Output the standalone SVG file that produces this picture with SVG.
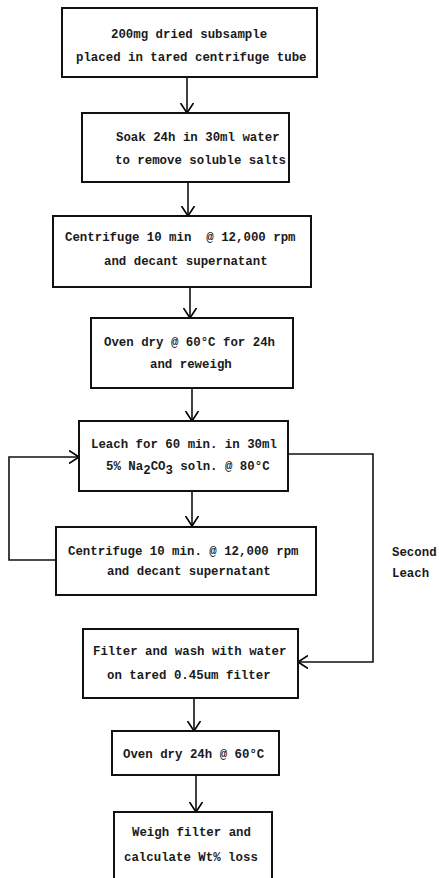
<svg xmlns="http://www.w3.org/2000/svg" width="439" height="878" viewBox="0 0 439 878">
<defs>
<marker id="arr" viewBox="0 0 10 14" refX="10" refY="7" markerWidth="10" markerHeight="14" markerUnits="userSpaceOnUse" orient="auto">
<path d="M0,0.5 L10,7 L0,13.5" fill="none" stroke="#000" stroke-width="1.6"/>
</marker>
</defs>
<style>
.box { fill: #fff; stroke: #111; stroke-width: 2; }
.open { fill: none; stroke: #111; stroke-width: 2; }
text { font-family: "Liberation Mono", "Courier New", monospace; font-size: 12.4px; font-weight: bold; fill: #1a1a1a; white-space: pre; }
.c { fill: none; stroke: #111; stroke-width: 1.6; }
</style>
<rect width="439" height="878" fill="#fff"/>
<g id="connectors">
<line class="c" x1="187" y1="77" x2="187" y2="113" marker-end="url(#arr)"/>
<line class="c" x1="188" y1="182" x2="188" y2="216" marker-end="url(#arr)"/>
<line class="c" x1="190" y1="287" x2="190" y2="318" marker-end="url(#arr)"/>
<line class="c" x1="192" y1="388" x2="192" y2="421" marker-end="url(#arr)"/>
<line class="c" x1="192" y1="491" x2="192" y2="526" marker-end="url(#arr)"/>
<polyline class="c" points="56,560 9,560 9,457 79,457" marker-end="url(#arr)"/>
<polyline class="c" points="288,454 373,454 373,662 298,662" marker-end="url(#arr)"/>
<line class="c" x1="194" y1="698" x2="194" y2="731" marker-end="url(#arr)"/>
<line class="c" x1="196" y1="775" x2="196" y2="812" marker-end="url(#arr)"/>
</g>
<g id="n1">
<rect class="box" x="62" y="8" width="255" height="69"/>
<text x="111" y="38">200mg dried subsample</text>
<text x="76" y="61">placed in tared centrifuge tube</text>
</g>
<g id="n2">
<rect class="box" x="82" y="113" width="207" height="69"/>
<text x="116" y="141">Soak 24h in 30ml water</text>
<text x="115" y="164">to remove soluble salts</text>
</g>
<g id="n3">
<rect class="box" x="53" y="216" width="258" height="71"/>
<text x="65" y="241">Centrifuge 10 min  @ 12,000 rpm</text>
<text x="104" y="265">and decant supernatant</text>
</g>
<g id="n4">
<rect class="box" x="91" y="318" width="202" height="70"/>
<text x="104" y="346">Oven dry @ 60°C for 24h</text>
<text x="150" y="368">and reweigh</text>
</g>
<g id="n5">
<rect class="box" x="79" y="421" width="209" height="70"/>
<text x="91" y="448">Leach for 60 min. in 30ml</text>
<text x="106" y="470">5% Na<tspan dy="4">2</tspan><tspan dy="-4">CO</tspan><tspan dy="4">3</tspan><tspan dy="-4"> soln. @ 80°C</tspan></text>
</g>
<g id="n6">
<rect class="box" x="56" y="527" width="260" height="68"/>
<text x="68" y="555">Centrifuge 10 min. @ 12,000 rpm</text>
<text x="107" y="575">and decant supernatant</text>
</g>
<g id="n7">
<rect class="box" x="83" y="629" width="215" height="69"/>
<text x="93" y="655">Filter and wash with water</text>
<text x="107" y="679">on tared 0.45um filter</text>
</g>
<g id="n8">
<rect class="box" x="112" y="731" width="167" height="44"/>
<text x="123" y="758">Oven dry 24h @ 60°C</text>
</g>
<g id="n9">
<path class="open" d="M114,878 L114,812 L272,812 L272,878"/>
<text x="132" y="836">Weigh filter and</text>
<text x="124" y="861">calculate Wt% loss</text>
</g>
<g id="label">
<text x="392" y="556">Second</text>
<text x="392" y="577">Leach</text>
</g>
</svg>
